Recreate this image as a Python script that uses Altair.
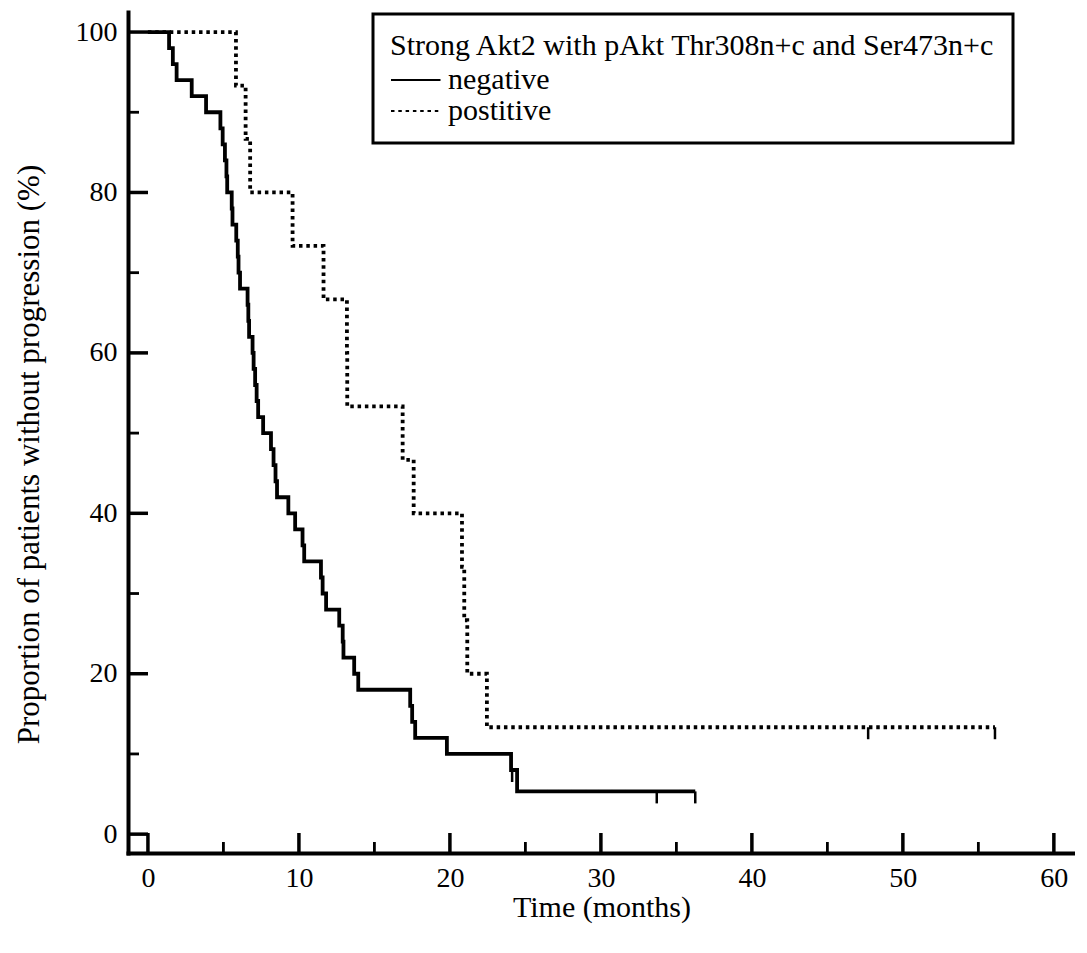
import altair as alt
import pandas as pd

# Kaplan-Meier curves (months, % without progression)
neg_time = [0, 1.4, 1.65, 1.9, 2.9, 3.85, 4.8, 4.95, 5.1, 5.2, 5.25, 5.55, 5.6, 5.85, 5.95, 6.0, 6.1,
            6.6, 6.65, 6.7, 6.93, 7.0, 7.1, 7.2, 7.3, 7.63, 8.15, 8.32, 8.45, 8.55, 9.3, 9.75,
            10.24, 10.35, 11.46, 11.57, 11.8, 12.67, 12.9, 12.95, 13.66, 13.93, 17.37, 17.5, 17.7,
            19.8, 24.05, 24.45, 36.25]
neg_surv = [100, 98, 96, 94, 92, 90, 88, 86, 84, 82, 80, 78, 76, 74, 72, 70, 68,
            66, 64, 62, 60, 58, 56, 54, 52, 50, 48, 46, 44, 42, 40, 38,
            36, 34, 32, 30, 28, 26, 24, 22, 20, 18, 16, 14, 12,
            10, 8, 5.33, 5.33]
pos_time = [0, 5.83, 6.47, 6.77, 9.58, 11.63, 13.18, 13.2, 16.87, 17.6, 20.8, 20.95, 21.15, 22.45, 56.1]
pos_surv = [100, 93.33, 86.67, 80, 73.33, 66.67, 60, 53.33, 46.67, 40, 33.33, 26.67, 20, 13.33, 13.33]

# censored observations
neg_cens_time = [24.12, 33.7, 36.25]
neg_cens_surv = [8, 5.33, 5.33]
pos_cens_time = [47.7, 56.1]
pos_cens_surv = [13.33, 13.33]

groups = ["negative", "postitive"]
legend_title = "Strong Akt2 with pAkt Thr308n+c and Ser473n+c"

# axis ticks
x_major = [0, 10, 20, 30, 40, 50, 60]
x_minor = [5, 15, 25, 35, 45, 55]
y_major = [0, 20, 40, 60, 80, 100]
y_minor = [10, 30, 50, 70, 90]

W, H = 947, 841
FONT = "Liberation Serif, Times New Roman, serif"

curves = pd.DataFrame(
    [{"t": t, "s": s, "group": groups[0], "i": i} for i, (t, s) in enumerate(zip(neg_time, neg_surv))]
    + [{"t": t, "s": s, "group": groups[1], "i": i} for i, (t, s) in enumerate(zip(pos_time, pos_surv))]
)
cens = pd.DataFrame(
    [{"t": t, "s": s, "group": groups[0]} for t, s in zip(neg_cens_time, neg_cens_surv)]
    + [{"t": t, "s": s, "group": groups[1]} for t, s in zip(pos_cens_time, pos_cens_surv)]
)
yticks = pd.DataFrame(
    [{"sy": v, "major": 1} for v in y_major] + [{"sy": v, "major": 0} for v in y_minor]
)

xscale = alt.Scale(domain=[-1.32, 61.4], nice=False, zero=False)
yscale = alt.Scale(domain=[-2.35, 102.5], nice=False, zero=False)

lines = alt.Chart(curves).mark_line(
    interpolate="step-after", color="black", strokeWidth=3.8, strokeCap="butt"
).encode(
    x=alt.X("t:Q", scale=xscale,
            axis=alt.Axis(values=x_major, title="Time (months)", labelPadding=11,
                          titleBaseline="top", titleY=39, titleFontSize=30)),
    y=alt.Y("s:Q", scale=yscale,
            axis=alt.Axis(values=y_major, title="Proportion of patients without progression (%)",
                          titlePadding=30, labelPadding=11, titleY=442, titleFontSize=31)),
    strokeDash=alt.StrokeDash(
        "group:N",
        scale=alt.Scale(domain=groups, range=[[1, 0], [3.5, 3.8]]),
        legend=alt.Legend(title=legend_title, symbolType="M-1,0H2.3", symbolSize=900,
                          labelOffset=26),
    ),
    detail="group:N",
    order="i:Q",
)

censor = alt.Chart(cens).mark_tick(
    orient="vertical", color="black", opacity=1, size=12, thickness=2.5, yOffset=6
).encode(
    x=alt.X("t:Q", scale=xscale),
    y=alt.Y("s:Q", scale=yscale),
)

xmaj = alt.Chart(pd.DataFrame({"tx": x_major})).mark_tick(
    orient="vertical", color="black", opacity=1, size=20, thickness=3.5
).encode(x=alt.X("tx:Q", scale=xscale), y=alt.value(H - 10))
xmin = alt.Chart(pd.DataFrame({"tn": x_minor})).mark_tick(
    orient="vertical", color="black", opacity=1, size=11, thickness=2.8
).encode(x=alt.X("tn:Q", scale=xscale), y=alt.value(H - 5.5))

ybase = alt.Chart(yticks)
ymaj = ybase.transform_filter("datum.major == 1").mark_rule(
    color="black", opacity=1, strokeWidth=3.5
).encode(y=alt.Y("sy:Q", scale=yscale), x=alt.value(0), x2=alt.value(20))
ymin = ybase.transform_filter("datum.major == 0").mark_rule(
    color="black", opacity=1, strokeWidth=2.8
).encode(y=alt.Y("sy:Q", scale=yscale), x=alt.value(0), x2=alt.value(11))

chart = alt.layer(lines, censor, xmaj, xmin, ymaj, ymin).properties(
    width=W, height=H,
    padding={"left": 5, "top": 4, "right": 0, "bottom": 5},
).configure_view(stroke=None).configure_axis(
    grid=False, ticks=False, tickSize=0,
    domainColor="black", domainWidth=4, domainCap="square",
    labelFont=FONT, labelFontSize=28, labelColor="black",
    titleFont=FONT, titleFontSize=30, titleFontWeight="normal", titleColor="black",
).configure_legend(
    orient="none", legendX=245, legendY=2,
    strokeColor="black", strokeWidth=3, fillColor="white", padding=17,
    titleFont=FONT, titleFontSize=30, titleFontWeight="normal", titleColor="black",
    titleLimit=1000, titlePadding=3,
    labelFont=FONT, labelFontSize=30, labelColor="black", labelLimit=500,
    symbolStrokeWidth=2, symbolStrokeColor="black",
    rowPadding=0,
)

chart.save("out.html", embed_options={"renderer": "svg", "actions": False})
